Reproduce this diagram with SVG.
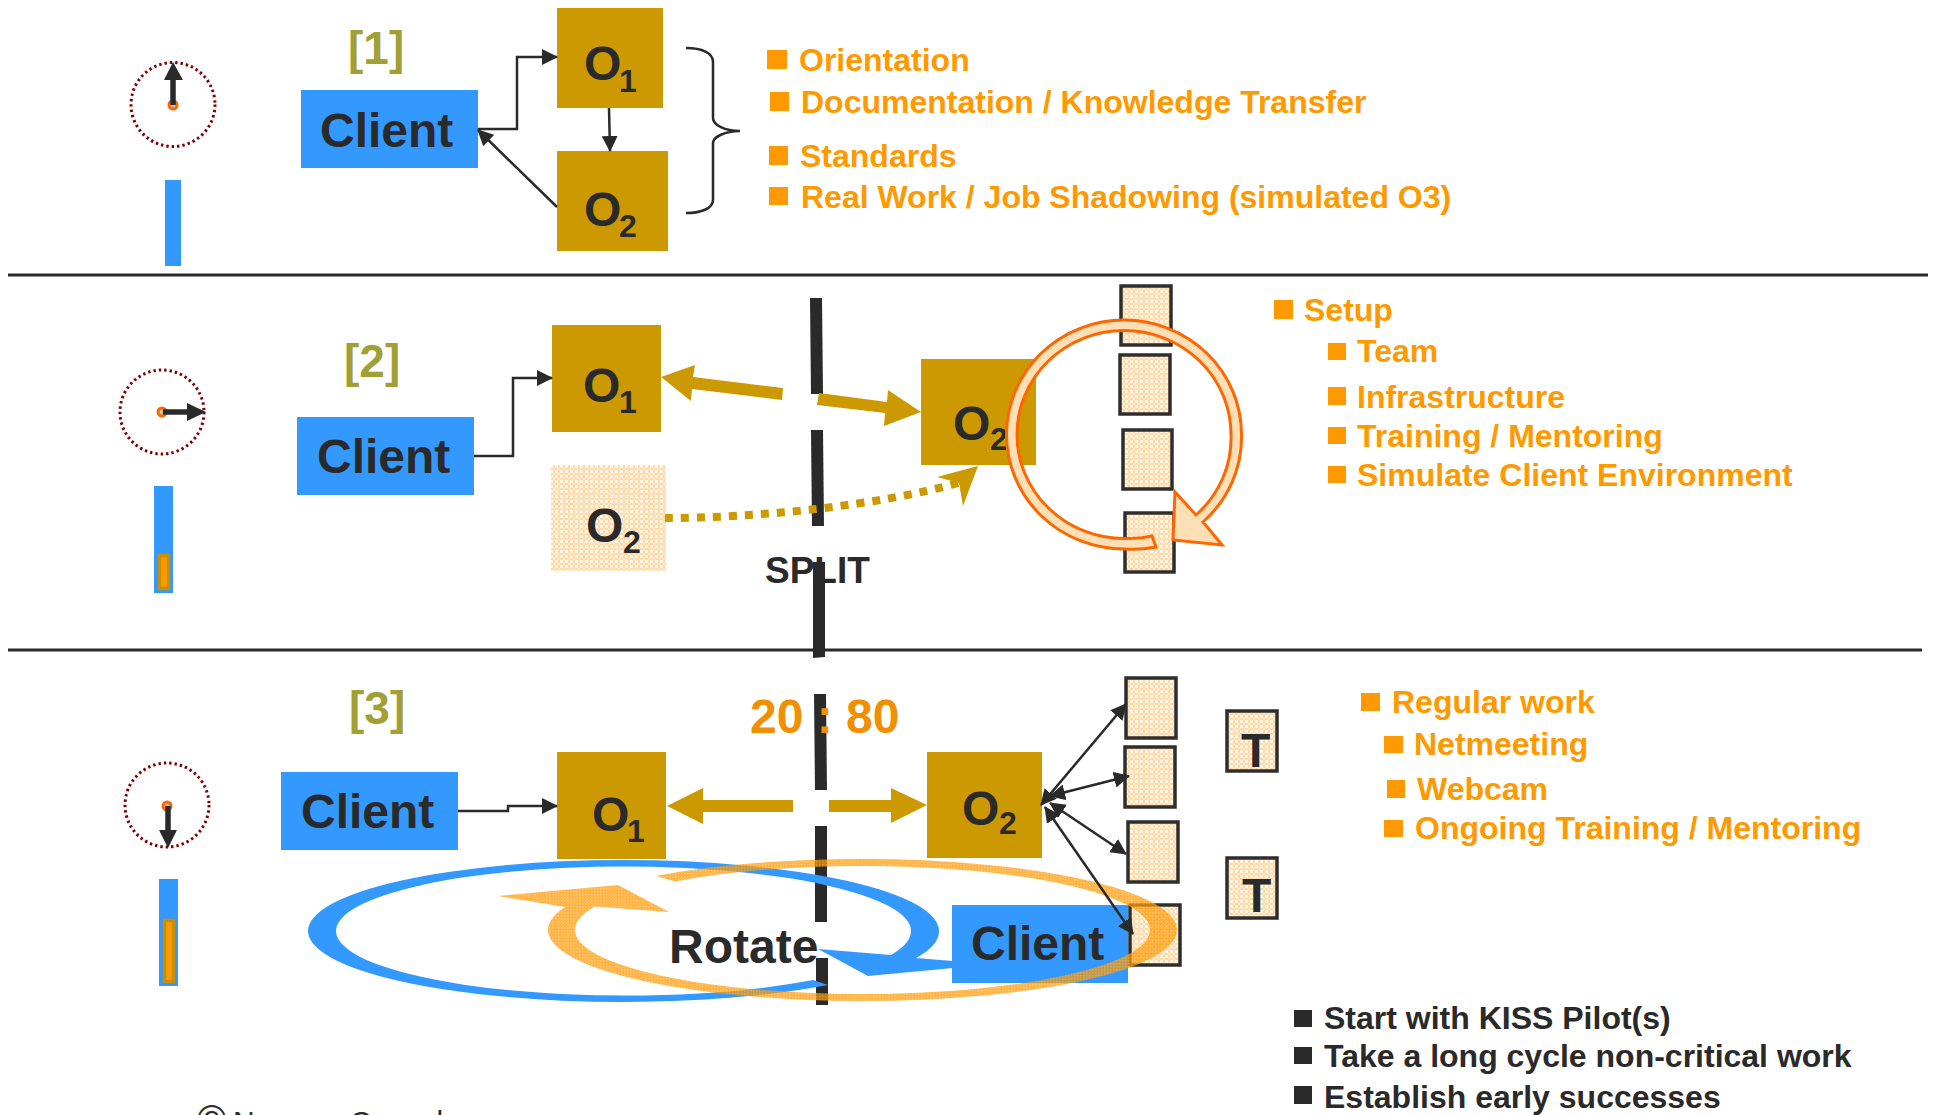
<svg xmlns="http://www.w3.org/2000/svg" width="1933" height="1115" viewBox="0 0 1933 1115">
<style>
text{font-family:"Liberation Sans",Arial,sans-serif;font-weight:bold;fill:#2a2a2a}
.client{fill:#3399ff}
.gold{fill:#cc9900}
.check{fill:url(#check)}
.box{fill:url(#check);stroke:#2e2e2e;stroke-width:3.5}
.cl{font-size:48px}
.o{font-size:48px}
.sub{font-size:32px}
.idx{font-size:46px;fill:#a0a035}
.li{font-size:32px;fill:#ff9900}
.bl{fill:#ff9900}
.bk{font-size:32px}
.bkb{fill:#2a2a2a}
.bar{fill:#2a2a2a}
.rule{stroke:#2a2a2a;stroke-width:3}
.dial{fill:none;stroke:#800000;stroke-width:3;stroke-dasharray:2.4 3}
.pin{fill:#c8c0a0;stroke:#ff6600;stroke-width:3}
.hand{stroke:#2a2a2a;stroke-width:5.5}
.conn{fill:none;stroke:#2a2a2a;stroke-width:2.5}
.fill{fill:#ff9900;stroke:#c89000;stroke-width:3.5}
</style>
<defs>
<pattern id="check" width="5" height="5" patternUnits="userSpaceOnUse"><rect width="5" height="5" fill="#ffd9a6"/><rect width="3" height="3" fill="#fff6ea"/><rect x="3" y="3" width="2" height="2" fill="#ffe6c6"/></pattern>
<pattern id="mesh" width="3" height="3" patternUnits="userSpaceOnUse"><rect width="3" height="3" fill="#ff9900" fill-opacity="0.72"/><rect width="1.5" height="1.5" fill="#ffffff" fill-opacity="0.2"/></pattern>
<marker id="ah" markerUnits="userSpaceOnUse" markerWidth="17" markerHeight="16" refX="15" refY="8" orient="auto-start-reverse"><path d="M0,0L16,8L0,16Z" fill="#2a2a2a"/></marker>
</defs>

<g id="rules">
<line class="rule" x1="8" y1="275" x2="1928" y2="275"/>
<line class="rule" x1="8" y1="650" x2="1922" y2="650"/>
</g>

<g id="split-bars">
<path class="bar" d="M810,298H822L823,394H811Z"/>
<path class="bar" d="M811,430H823L824,526H812Z"/>
<path class="bar" d="M813,562H825L825,657L813,658Z"/>
<path class="bar" d="M814,694H826L827,790H815Z"/>
<path class="bar" d="M815,826H827L827,922H815Z"/>
<rect class="bar" x="816" y="958" width="12" height="47"/>
</g>

<g id="clock-1">
<circle class="dial" cx="173" cy="104.5" r="42"/><circle class="pin" cx="173" cy="105" r="4"/>
<line class="hand" x1="173" y1="105" x2="173" y2="78"/><path class="bkb" d="M173,62L183,80H164Z"/>
<rect class="client" x="165" y="180" width="16" height="86"/>
</g>
<g id="clock-2">
<circle class="dial" cx="162" cy="412" r="42"/><circle class="pin" cx="162" cy="412" r="4"/>
<line class="hand" x1="163" y1="412" x2="190" y2="412"/><path class="bkb" d="M206,412L187,403V421Z"/>
<rect class="client" x="154" y="486" width="19" height="107"/>
<rect class="fill" x="159.500" y="555.500" width="9" height="33"/>
</g>
<g id="clock-3">
<circle class="dial" cx="167" cy="805" r="42"/><circle class="pin" cx="167" cy="806" r="4"/>
<line class="hand" x1="168" y1="806" x2="168" y2="832"/><path class="bkb" d="M168,848L159,830H177Z"/>
<rect class="client" x="159" y="879" width="19" height="107"/>
<rect class="fill" x="164.500" y="920.500" width="9" height="61"/>
</g>

<text class="idx" x="348" y="64">[1]</text>
<text class="idx" x="344" y="377">[2]</text>
<text class="idx" x="349" y="724">[3]</text>

<g id="client-1"><rect class="client" x="301" y="90" width="177" height="78"/><text class="cl" x="320" y="147">Client</text></g>
<g id="o1-1"><rect class="gold" x="557" y="8" width="106" height="100"/><text class="o" x="584" y="80">O</text><text class="sub" x="619" y="92">1</text></g>
<g id="o2-1"><rect class="gold" x="557" y="151" width="111" height="100"/><text class="o" x="584" y="226">O</text><text class="sub" x="619" y="237">2</text></g>

<g id="client-2"><rect class="client" x="297" y="417" width="177" height="78"/><text class="cl" x="317" y="473">Client</text></g>
<g id="o1-2"><rect class="gold" x="552" y="325" width="109" height="107"/><text class="o" x="583" y="402">O</text><text class="sub" x="619" y="413">1</text></g>
<g id="o2-ghost"><rect class="check" x="551" y="465" width="115" height="106"/><text class="o" x="586" y="542">O</text><text class="sub" x="623" y="553">2</text></g>
<g id="o2-2"><rect class="gold" x="921" y="359" width="115" height="106"/><text class="o" x="953" y="440">O</text><text class="sub" x="990" y="450">2</text></g>
<g id="team-2">
<rect class="box" x="1121" y="286" width="50" height="59"/>
<rect class="box" x="1120" y="355" width="50" height="59"/>
<rect class="box" x="1123" y="430" width="49" height="59"/>
<rect class="box" x="1125" y="513" width="49" height="59"/>
</g>

<g id="client-3"><rect class="client" x="281" y="772" width="177" height="78"/><text class="cl" x="301" y="828">Client</text></g>
<g id="o1-3"><rect class="gold" x="557" y="752" width="109" height="107"/><text class="o" x="592" y="831">O</text><text class="sub" x="627" y="842">1</text></g>
<g id="o2-3"><rect class="gold" x="927" y="752" width="115" height="106"/><text class="o" x="962" y="825">O</text><text class="sub" x="999" y="834">2</text></g>
<g id="team-3">
<rect class="box" x="1126" y="678" width="50" height="60"/>
<rect class="box" x="1125" y="747" width="50" height="60"/>
<rect class="box" x="1128" y="822" width="50" height="60"/>
<rect class="box" x="1130" y="905" width="50" height="60"/>
</g>
<g id="t-1"><rect class="box" x="1227" y="711" width="50" height="60"/><text x="1241" y="767" font-size="48">T</text></g>
<g id="t-2"><rect class="box" x="1227" y="858" width="50" height="60"/><text x="1242" y="912" font-size="48">T</text></g>

<g id="rotate-blue"><path class="client" d="M828,985A315.500,71 0 0 1 623.500,1002A315.500,71 0 0 1 308,931A315.500,71 0 0 1 623.500,860A315.500,71 0 0 1 939,931A315.500,71 0 0 1 916,958L953,961V968L868,976L818,949L891,955A287.500,64.500 0 0 0 911,931A287.500,64.500 0 0 0 623.500,866.500A287.500,64.500 0 0 0 336,931A287.500,64.500 0 0 0 623.500,995.500A287.500,64.500 0 0 0 813,980Z"/></g>
<g id="client-rotate"><rect class="client" x="952" y="905" width="176" height="78"/><text class="cl" x="971" y="960">Client</text></g>
<g id="rotate-orange"><path fill="url(#mesh)" d="M656,876A314.500,71 0 0 1 862.500,859A314.500,71 0 0 1 1177,930A314.500,71 0 0 1 862.500,1001A314.500,71 0 0 1 548,930A314.500,71 0 0 1 565,907L498,896L618,885L669,912L595,906.500A287.500,64 0 0 0 575,930A287.500,64 0 0 0 862.500,994A287.500,64 0 0 0 1150,930A287.500,64 0 0 0 862.500,866A287.500,64 0 0 0 675,881.500Z"/></g>
<text id="rotate-label" class="cl" x="669" y="963">Rotate</text>

<g id="connectors">
<path class="conn" marker-end="url(#ah)" d="M478,129H517V57H557"/>
<path class="conn" marker-end="url(#ah)" d="M609,108L610,151"/>
<path class="conn" marker-end="url(#ah)" d="M557,207L478,130"/>
<path class="conn" marker-end="url(#ah)" d="M474,456H513V378H552"/>
<path class="conn" marker-end="url(#ah)" d="M458,811H508V806H557"/>
<path class="gold" d="M661,377L695,365L693,377L783,388L782,400L692,389L691,401Z"/>
<path class="gold" d="M819,393L887,402L888,390L921,412L884,426L885,413L817,405Z"/>
<path fill="none" stroke="#cc9900" stroke-width="8" stroke-dasharray="8 8" d="M665,518C760,518 880,505 958,483"/>
<path class="gold" d="M978,466L937,477L959,483L963,506Z"/>
<path class="gold" d="M667,806L703,788V800H793V812H703V824Z"/>
<path class="gold" d="M829,800H891V788L927,805L891,823V812H829Z"/>
<line class="conn" marker-start="url(#ah)" marker-end="url(#ah)" x1="1041" y1="805" x2="1126" y2="704"/>
<line class="conn" marker-start="url(#ah)" marker-end="url(#ah)" x1="1050" y1="796" x2="1129" y2="776"/>
<line class="conn" marker-start="url(#ah)" marker-end="url(#ah)" x1="1050" y1="803" x2="1126" y2="854"/>
<line class="conn" marker-start="url(#ah)" marker-end="url(#ah)" x1="1045" y1="807" x2="1133" y2="934"/>
</g>

<g id="ring"><path fill="#ffdfb5" stroke="#ff6600" stroke-width="3" d="M1156,547A117.500,114.500 0 0 1 1124,549A117.500,114.500 0 0 1 1006.500,434.500A117.500,114.500 0 0 1 1124,320A117.500,114.500 0 0 1 1241.500,434.500A117.500,114.500 0 0 1 1203,522L1222,545L1173,540L1175,492L1196,515A107,104 0 0 0 1231,434.500A107,104 0 0 0 1124,330.500A107,104 0 0 0 1017,434.500A107,104 0 0 0 1124,538.500A107,104 0 0 0 1152,536Z"/></g>

<g id="brace"><path fill="none" stroke="#2a2a2a" stroke-width="2.500" d="M686,48C702,48 713,53 713,62V118C713,125 725,131 740,131C725,131 713,137 713,143V200C713,208 702,213 686,213"/></g>

<text id="split-label" x="765" y="583" font-size="37">SPLIT</text>
<path class="bar" d="M813,562H825L825,590H813Z"/>
<text id="ratio" x="750" y="733" font-size="48" style="fill:#f09000">20 : 80</text>

<g id="list-1">
<rect class="bl" x="767" y="50" width="20" height="19"/><text class="li" x="799" y="71">Orientation</text>
<rect class="bl" x="770" y="92" width="19" height="19"/><text class="li" x="801" y="113">Documentation / Knowledge Transfer</text>
<rect class="bl" x="769" y="146" width="19" height="19"/><text class="li" x="800" y="167">Standards</text>
<rect class="bl" x="769" y="187" width="19" height="18"/><text class="li" x="801" y="208">Real Work / Job Shadowing (simulated O3)</text>
</g>
<g id="list-2">
<rect class="bl" x="1274" y="300" width="19" height="19"/><text class="li" x="1304" y="321">Setup</text>
<rect class="bl" x="1328" y="343" width="18" height="17"/><text class="li" x="1357" y="362">Team</text>
<rect class="bl" x="1328" y="387" width="18" height="18"/><text class="li" x="1357" y="408">Infrastructure</text>
<rect class="bl" x="1328" y="427" width="18" height="17"/><text class="li" x="1357" y="447">Training / Mentoring</text>
<rect class="bl" x="1328" y="466" width="18" height="17"/><text class="li" x="1357" y="486">Simulate Client Environment</text>
</g>
<g id="list-3">
<rect class="bl" x="1361" y="693" width="19" height="18"/><text class="li" x="1392" y="713">Regular work</text>
<rect class="bl" x="1384" y="736" width="19" height="17"/><text class="li" x="1414" y="755">Netmeeting</text>
<rect class="bl" x="1387" y="780" width="18" height="18"/><text class="li" x="1417" y="800">Webcam</text>
<rect class="bl" x="1384" y="820" width="19" height="17"/><text class="li" x="1415" y="839">Ongoing Training / Mentoring</text>
</g>
<g id="list-4">
<rect class="bkb" x="1294" y="1010" width="18" height="17"/><text class="bk" x="1324" y="1029">Start with KISS Pilot(s)</text>
<rect class="bkb" x="1294" y="1047" width="18" height="17"/><text class="bk" x="1324" y="1067">Take a long cycle non-critical work</text>
<rect class="bkb" x="1294" y="1086" width="18" height="18"/><text class="bk" x="1324" y="1108">Establish early successes</text>
</g>
<g id="copyright"><text x="197" y="1134" font-size="40" style="font-weight:normal">©</text><text x="233" y="1132" font-size="30" style="font-weight:normal">Nagarro Consul</text></g>
</svg>
